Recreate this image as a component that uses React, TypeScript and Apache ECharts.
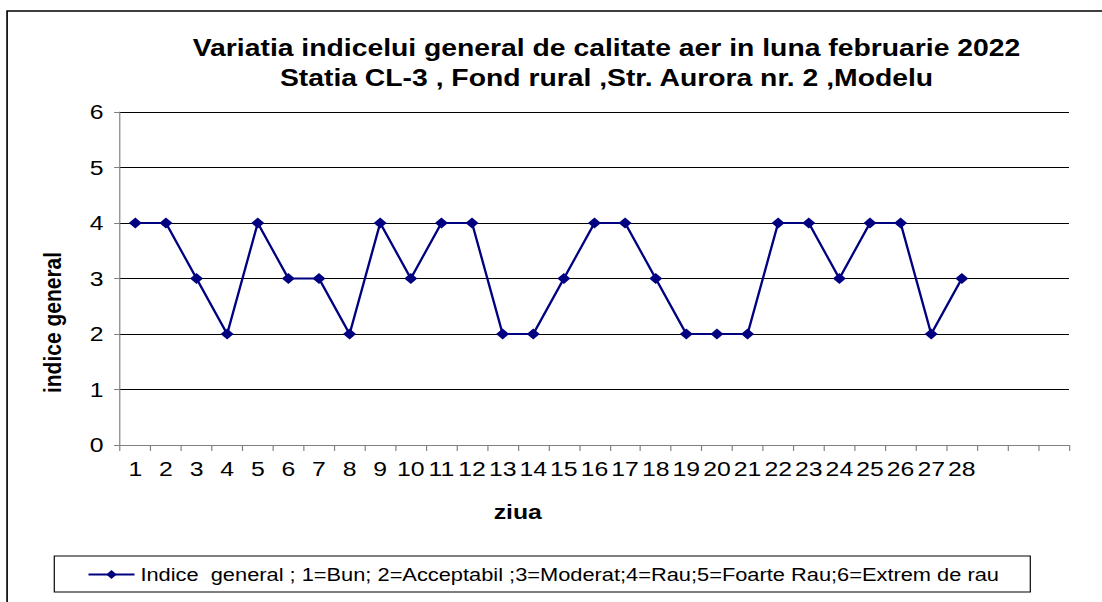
import React, { useEffect, useRef } from "react";
import * as echarts from "echarts";

const titleLines = [
  "Variatia indicelui general de calitate aer in luna februarie 2022",
  "Statia CL-3 , Fond rural ,Str. Aurora nr. 2 ,Modelu",
];
const days = [
  "1","2","3","4","5","6","7","8","9","10","11","12","13","14","15","16","17","18","19","20","21","22","23","24","25","26","27","28","","","",
];
const indiceValues = [4,4,3,2,4,3,3,2,4,3,4,4,2,2,3,4,4,3,2,2,2,4,4,3,4,4,2,3];
const seriesName = "Indice  general ; 1=Bun; 2=Acceptabil ;3=Moderat;4=Rau;5=Foarte Rau;6=Extrem de rau";
const xName = "ziua";
const yName = "indice general";

// The reference picture is horizontally stretched; draw narrower and stretch.
const STRETCH = 1.18;
const W = 934;

export default function App() {
  const ref = useRef<HTMLDivElement>(null);
  useEffect(() => {
    const chart = echarts.init(ref.current!, undefined, { renderer: "svg" });
    const font = "'Liberation Sans', Arial, sans-serif";
    chart.setOption({
      animation: false,
      backgroundColor: "#fff",
      textStyle: { fontFamily: font },
      title: {
        text: titleLines.join("\n"),
        left: 509,
        textAlign: "center",
        top: 28,
        textStyle: { fontSize: 24, fontWeight: "bold", color: "#000", lineHeight: 30, fontFamily: font },
      },
      graphic: [
        {
          type: "rect",
          shape: { x: 6, y: 11, width: 1000, height: 620 },
          style: { fill: "none", stroke: "#000", lineWidth: 1.4 },
          silent: true,
        },
      ],
      legend: {
        left: 46,
        top: 556,
        padding: [9, 26, 8, 28],
        borderColor: "#000",
        borderWidth: 1,
        itemWidth: 39,
        itemHeight: 11,
        itemGap: 0,
        textStyle: { fontSize: 18.5, color: "#000", fontFamily: font },
        data: [seriesName],
      },
      grid: { left: 101.7, top: 112, width: 804.2, height: 333, containLabel: false },
      xAxis: {
        type: "category",
        data: days,
        boundaryGap: true,
        name: xName,
        nameLocation: "middle",
        nameGap: 56,
        nameTextStyle: { fontSize: 21, fontWeight: "bold", color: "#000", padding: [0, 130, 0, 0] },
        axisLine: { lineStyle: { color: "#808080", width: 1 } },
        axisTick: { show: true, interval: 0, length: 6, lineStyle: { color: "#808080" } },
        axisLabel: { interval: 0, fontSize: 21, color: "#000", margin: 13 },
        splitLine: { show: false },
      },
      yAxis: {
        type: "value",
        min: 0,
        max: 6,
        interval: 1,
        name: yName,
        nameLocation: "middle",
        nameGap: 47,
        nameTextStyle: { fontSize: 21, fontWeight: "bold", color: "#000", padding: [0, 88, 0, 0] },
        axisLine: { show: true, lineStyle: { color: "#808080", width: 1 } },
        axisTick: { show: true, length: 5, lineStyle: { color: "#808080" } },
        axisLabel: { fontSize: 21, color: "#000", margin: 14 },
        splitLine: { show: true, lineStyle: { color: "#000", width: 1 } },
      },
      series: [
        {
          name: seriesName,
          type: "line",
          data: indiceValues,
          symbol: "diamond",
          symbolSize: 11,
          itemStyle: { color: "#000080" },
          lineStyle: { color: "#000080", width: 2 },
        },
      ],
    });
    return () => chart.dispose();
  }, []);
  return (
    <div
      ref={ref}
      style={{
        position: "fixed",
        left: 0,
        top: 0,
        width: W,
        height: 602,
        transform: `scaleX(${STRETCH})`,
        transformOrigin: "0 0",
      }}
    />
  );
}
